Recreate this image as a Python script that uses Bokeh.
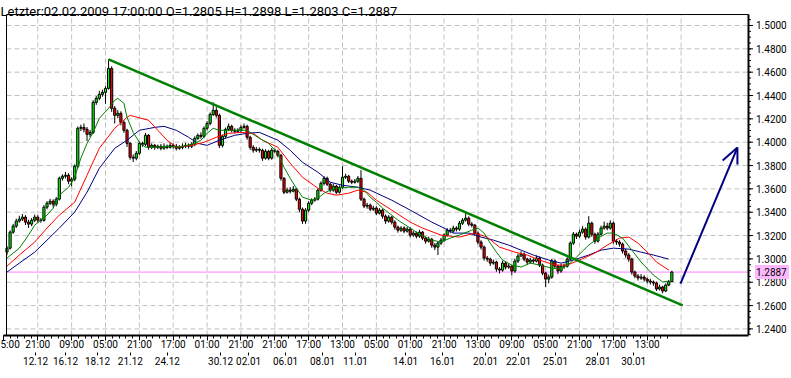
from bokeh.plotting import figure
from bokeh.models import Range1d, LinearAxis, FixedTicker, ColumnDataSource
from bokeh.core.properties import value
from bokeh.embed import file_html
from bokeh.resources import INLINE

FONT = "Roboto"

# ---------------- H4 candles (bar index 0..216) ----------------
OPEN = [
    1.3058, 1.3092, 1.3229, 1.3281, 1.3324, 1.3341, 1.3358, 1.3315, 1.3298, 1.3332,
    1.3358, 1.3332, 1.3330, 1.3443, 1.3477, 1.3494, 1.3469, 1.3512, 1.3691, 1.3708,
    1.3717, 1.3666, 1.3683, 1.3794, 1.4119, 1.4127, 1.4110, 1.4067, 1.4084, 1.4341,
    1.4376, 1.4410, 1.4427, 1.4461, 1.4632, 1.4290, 1.4230, 1.4247, 1.4170, 1.4102,
    1.3990, 1.3871, 1.3863, 1.3905, 1.3990, 1.3982, 1.4059, 1.3956, 1.3973, 1.3956,
    1.3965, 1.3948, 1.3965, 1.3956, 1.3973, 1.3965, 1.3948, 1.3956, 1.3965, 1.3973,
    1.3965, 1.3982, 1.4033, 1.4059, 1.4050, 1.4119, 1.4161, 1.4238, 1.4273, 1.4230,
    1.3973, 1.4050, 1.4110, 1.4136, 1.4102, 1.4093, 1.4102, 1.4127, 1.4136, 1.4042,
    1.3956, 1.3931, 1.3939, 1.3931, 1.3863, 1.3922, 1.3863, 1.3931, 1.3922, 1.3888,
    1.3691, 1.3571, 1.3589, 1.3580, 1.3597, 1.3512, 1.3426, 1.3324, 1.3418, 1.3477,
    1.3503, 1.3512, 1.3589, 1.3648, 1.3691, 1.3640, 1.3589, 1.3623, 1.3571, 1.3614,
    1.3700, 1.3708, 1.3666, 1.3657, 1.3666, 1.3691, 1.3512, 1.3452, 1.3460, 1.3426,
    1.3435, 1.3392, 1.3418, 1.3366, 1.3324, 1.3358, 1.3315, 1.3272, 1.3246, 1.3264,
    1.3238, 1.3255, 1.3204, 1.3221, 1.3195, 1.3229, 1.3178, 1.3152, 1.3169, 1.3118,
    1.3101, 1.3135, 1.3161, 1.3204, 1.3246, 1.3238, 1.3264, 1.3255, 1.3306, 1.3332,
    1.3349, 1.3298, 1.3289, 1.3221, 1.3144, 1.3101, 1.3007, 1.2998, 1.2964, 1.2973,
    1.2913, 1.2904, 1.2964, 1.2930, 1.2938, 1.2896, 1.2981, 1.3024, 1.3041, 1.2998,
    1.2973, 1.2990, 1.2981, 1.3007, 1.2947, 1.2878, 1.2827, 1.2844, 1.2981, 1.2938,
    1.2896, 1.2938, 1.2938, 1.2998, 1.3135, 1.3212, 1.3195, 1.3229, 1.3255, 1.3187,
    1.3306, 1.3212, 1.3152, 1.3212, 1.3264, 1.3281, 1.3264, 1.3306, 1.3152, 1.3144,
    1.3127, 1.3067, 1.3033, 1.2998, 1.2887, 1.2853, 1.2836, 1.2844, 1.2827, 1.2810,
    1.2802, 1.2793, 1.2742, 1.2759, 1.2725, 1.2776, 1.2805,
]
HIGH = [
    1.3110, 1.3245, 1.3300, 1.3345, 1.3370, 1.3385, 1.3375, 1.3335, 1.3350, 1.3380,
    1.3375, 1.3350, 1.3460, 1.3495, 1.3515, 1.3510, 1.3530, 1.3705, 1.3725, 1.3745,
    1.3735, 1.3700, 1.3810, 1.4135, 1.4150, 1.4160, 1.4130, 1.4105, 1.4360, 1.4395,
    1.4440, 1.4450, 1.4480, 1.4710, 1.4650, 1.4310, 1.4275, 1.4265, 1.4185, 1.4115,
    1.4000, 1.3895, 1.3925, 1.4005, 1.4005, 1.4080, 1.4070, 1.3990, 1.3985, 1.3980,
    1.3985, 1.3990, 1.3980, 1.3995, 1.3990, 1.3985, 1.3975, 1.3990, 1.3995, 1.3990,
    1.4000, 1.4050, 1.4075, 1.4085, 1.4135, 1.4180, 1.4255, 1.4341, 1.4300, 1.4245,
    1.4065, 1.4125, 1.4160, 1.4150, 1.4120, 1.4120, 1.4145, 1.4160, 1.4150, 1.4055,
    1.3975, 1.3960, 1.3955, 1.3945, 1.3940, 1.3935, 1.3950, 1.3945, 1.3935, 1.3900,
    1.3700, 1.3610, 1.3615, 1.3625, 1.3610, 1.3525, 1.3440, 1.3435, 1.3495, 1.3520,
    1.3530, 1.3605, 1.3665, 1.3710, 1.3705, 1.3655, 1.3645, 1.3635, 1.3630, 1.3794,
    1.3730, 1.3720, 1.3680, 1.3685, 1.3710, 1.3760, 1.3525, 1.3480, 1.3475, 1.3455,
    1.3450, 1.3435, 1.3430, 1.3380, 1.3375, 1.3370, 1.3330, 1.3285, 1.3280, 1.3280,
    1.3275, 1.3270, 1.3240, 1.3235, 1.3250, 1.3240, 1.3190, 1.3190, 1.3180, 1.3135,
    1.3150, 1.3180, 1.3220, 1.3265, 1.3265, 1.3285, 1.3280, 1.3325, 1.3350, 1.3392,
    1.3365, 1.3315, 1.3300, 1.3235, 1.3160, 1.3115, 1.3025, 1.3010, 1.2995, 1.2985,
    1.2930, 1.2985, 1.2980, 1.2960, 1.2950, 1.3000, 1.3045, 1.3065, 1.3055, 1.3010,
    1.3010, 1.3005, 1.3030, 1.3020, 1.2960, 1.2890, 1.2865, 1.3000, 1.2995, 1.2950,
    1.2960, 1.2960, 1.3015, 1.3150, 1.3230, 1.3225, 1.3250, 1.3280, 1.3270, 1.3366,
    1.3320, 1.3225, 1.3230, 1.3285, 1.3320, 1.3310, 1.3330, 1.3320, 1.3170, 1.3160,
    1.3140, 1.3085, 1.3050, 1.3010, 1.2900, 1.2870, 1.2870, 1.2860, 1.2840, 1.2830,
    1.2815, 1.2805, 1.2780, 1.2770, 1.2790, 1.2820, 1.2898,
]
LOW = [
    1.3033, 1.3080, 1.3215, 1.3265, 1.3310, 1.3325, 1.3290, 1.3265, 1.3280, 1.3315,
    1.3310, 1.3310, 1.3320, 1.3425, 1.3460, 1.3440, 1.3450, 1.3500, 1.3670, 1.3690,
    1.3640, 1.3620, 1.3665, 1.3780, 1.4095, 1.4085, 1.4010, 1.4045, 1.4070, 1.4320,
    1.4360, 1.4390, 1.4330, 1.4450, 1.4260, 1.4160, 1.4205, 1.4145, 1.4080, 1.3960,
    1.3850, 1.3830, 1.3845, 1.3890, 1.3960, 1.3965, 1.3935, 1.3940, 1.3935, 1.3940,
    1.3930, 1.3935, 1.3940, 1.3945, 1.3945, 1.3930, 1.3935, 1.3940, 1.3950, 1.3945,
    1.3950, 1.3965, 1.4020, 1.4030, 1.4035, 1.4100, 1.4145, 1.4225, 1.4210, 1.3950,
    1.3955, 1.4035, 1.4095, 1.4085, 1.4075, 1.4080, 1.4085, 1.4115, 1.4020, 1.3935,
    1.3910, 1.3915, 1.3910, 1.3840, 1.3850, 1.3845, 1.3850, 1.3905, 1.3870, 1.3670,
    1.3555, 1.3560, 1.3560, 1.3570, 1.3495, 1.3400, 1.3300, 1.3300, 1.3400, 1.3460,
    1.3490, 1.3500, 1.3575, 1.3630, 1.3625, 1.3570, 1.3575, 1.3555, 1.3560, 1.3600,
    1.3685, 1.3650, 1.3640, 1.3645, 1.3650, 1.3495, 1.3435, 1.3430, 1.3410, 1.3410,
    1.3375, 1.3380, 1.3345, 1.3300, 1.3310, 1.3295, 1.3250, 1.3225, 1.3230, 1.3220,
    1.3225, 1.3185, 1.3190, 1.3175, 1.3180, 1.3160, 1.3130, 1.3140, 1.3095, 1.3075,
    1.3033, 1.3120, 1.3145, 1.3190, 1.3220, 1.3225, 1.3235, 1.3240, 1.3290, 1.3320,
    1.3280, 1.3270, 1.3200, 1.3125, 1.3080, 1.2985, 1.2975, 1.2940, 1.2950, 1.2890,
    1.2875, 1.2890, 1.2910, 1.2915, 1.2860, 1.2880, 1.2965, 1.3020, 1.2980, 1.2950,
    1.2960, 1.2960, 1.2970, 1.2930, 1.2860, 1.2759, 1.2790, 1.2830, 1.2920, 1.2870,
    1.2880, 1.2915, 1.2925, 1.2985, 1.3120, 1.3170, 1.3180, 1.3215, 1.3165, 1.3175,
    1.3190, 1.3130, 1.3140, 1.3200, 1.3250, 1.3245, 1.3250, 1.3130, 1.3120, 1.3105,
    1.3045, 1.3010, 1.2975, 1.2865, 1.2835, 1.2815, 1.2820, 1.2805, 1.2790, 1.2780,
    1.2770, 1.2725, 1.2730, 1.2705, 1.2715, 1.2765, 1.2803,
]
CLOSE = [
    1.3092, 1.3229, 1.3281, 1.3324, 1.3341, 1.3358, 1.3315, 1.3298, 1.3332, 1.3358,
    1.3332, 1.3330, 1.3443, 1.3477, 1.3494, 1.3469, 1.3512, 1.3691, 1.3708, 1.3717,
    1.3666, 1.3683, 1.3794, 1.4119, 1.4127, 1.4110, 1.4067, 1.4084, 1.4341, 1.4376,
    1.4410, 1.4427, 1.4461, 1.4632, 1.4290, 1.4230, 1.4247, 1.4170, 1.4102, 1.3990,
    1.3871, 1.3863, 1.3905, 1.3990, 1.3982, 1.4059, 1.3956, 1.3973, 1.3956, 1.3965,
    1.3948, 1.3965, 1.3956, 1.3973, 1.3965, 1.3948, 1.3956, 1.3965, 1.3973, 1.3965,
    1.3982, 1.4033, 1.4059, 1.4050, 1.4119, 1.4161, 1.4238, 1.4273, 1.4230, 1.3973,
    1.4050, 1.4110, 1.4136, 1.4102, 1.4093, 1.4102, 1.4127, 1.4136, 1.4042, 1.3956,
    1.3931, 1.3939, 1.3931, 1.3863, 1.3922, 1.3863, 1.3931, 1.3922, 1.3888, 1.3691,
    1.3571, 1.3589, 1.3580, 1.3597, 1.3512, 1.3426, 1.3324, 1.3418, 1.3477, 1.3503,
    1.3512, 1.3589, 1.3648, 1.3691, 1.3640, 1.3589, 1.3623, 1.3571, 1.3614, 1.3700,
    1.3708, 1.3666, 1.3657, 1.3666, 1.3691, 1.3512, 1.3452, 1.3460, 1.3426, 1.3435,
    1.3392, 1.3418, 1.3366, 1.3324, 1.3358, 1.3315, 1.3272, 1.3246, 1.3264, 1.3238,
    1.3255, 1.3204, 1.3221, 1.3195, 1.3229, 1.3178, 1.3152, 1.3169, 1.3118, 1.3101,
    1.3135, 1.3161, 1.3204, 1.3246, 1.3238, 1.3264, 1.3255, 1.3306, 1.3332, 1.3349,
    1.3298, 1.3289, 1.3221, 1.3144, 1.3101, 1.3007, 1.2998, 1.2964, 1.2973, 1.2913,
    1.2904, 1.2964, 1.2930, 1.2938, 1.2896, 1.2981, 1.3024, 1.3041, 1.2998, 1.2973,
    1.2990, 1.2981, 1.3007, 1.2947, 1.2878, 1.2827, 1.2844, 1.2981, 1.2938, 1.2896,
    1.2938, 1.2938, 1.2998, 1.3135, 1.3212, 1.3195, 1.3229, 1.3255, 1.3187, 1.3306,
    1.3212, 1.3152, 1.3212, 1.3264, 1.3281, 1.3264, 1.3306, 1.3152, 1.3144, 1.3127,
    1.3067, 1.3033, 1.2998, 1.2887, 1.2853, 1.2836, 1.2844, 1.2827, 1.2810, 1.2802,
    1.2793, 1.2742, 1.2759, 1.2725, 1.2776, 1.2805, 1.2887,
]

# ---------------- moving averages (read at sample bars) ----------------
FAST_BARS = [0, 4, 7, 9, 11, 13, 15, 17, 20, 22, 24, 26, 28, 30, 33, 35, 36, 38, 39, 41,
             43, 45, 48, 52, 56, 61, 63, 65, 67, 69, 72, 78, 82, 85, 88, 90, 92, 94, 96, 99,
             101, 103, 105, 107, 111, 114, 116, 118, 120, 122, 125, 127, 131, 134, 138, 141,
             144, 147, 151, 153, 155, 157, 159, 161, 164, 167, 170, 173, 177, 180, 183, 185,
             189, 192, 195, 197, 200, 203, 206, 210, 213, 215]
FAST_VALS = [1.3007, 1.3092, 1.3204, 1.3289, 1.3332, 1.3375, 1.3435, 1.3546, 1.3614, 1.3700,
             1.3863, 1.3990, 1.4084, 1.4205, 1.4290, 1.4359, 1.4376, 1.4333, 1.4213, 1.4084,
             1.4000, 1.3957, 1.3957, 1.3965, 1.3957, 1.3990, 1.4017, 1.4076, 1.4119, 1.4102,
             1.4102, 1.4102, 1.4033, 1.3990, 1.3905, 1.3785, 1.3691, 1.3606, 1.3529, 1.3503,
             1.3520, 1.3563, 1.3589, 1.3606, 1.3614, 1.3614, 1.3589, 1.3529, 1.3486, 1.3435,
             1.3375, 1.3332, 1.3264, 1.3212, 1.3161, 1.3144, 1.3178, 1.3204, 1.3246, 1.3264,
             1.3221, 1.3135, 1.3058, 1.2990, 1.2947, 1.2930, 1.2964, 1.2947, 1.2921, 1.2913,
             1.2964, 1.3015, 1.3118, 1.3178, 1.3221, 1.3221, 1.3178, 1.3075, 1.2973, 1.2862,
             1.2802, 1.2810]
MID_BARS = [0, 4, 9, 13, 17, 22, 26, 30, 35, 39, 40, 46, 49, 52, 55, 60, 64, 68, 72, 76,
            80, 83, 88, 92, 96, 101, 104, 107, 111, 114, 117, 120, 126, 131, 135, 141, 147,
            152, 156, 160, 165, 169, 173, 178, 182, 186, 191, 195, 199, 202, 205, 208, 211, 215]
MID_VALS = [1.2938, 1.3033, 1.3144, 1.3264, 1.3375, 1.3486, 1.3717, 1.3948, 1.4119, 1.4213,
            1.4230, 1.4188, 1.4102, 1.4017, 1.3957, 1.3973, 1.3999, 1.4042, 1.4076, 1.4084,
            1.4076, 1.4017, 1.3957, 1.3820, 1.3700, 1.3606, 1.3563, 1.3546, 1.3563, 1.3589,
            1.3571, 1.3503, 1.3401, 1.3315, 1.3264, 1.3204, 1.3187, 1.3221, 1.3187, 1.3101,
            1.3058, 1.3033, 1.2990, 1.2947, 1.2947, 1.2990, 1.3050, 1.3118, 1.3178, 1.3187,
            1.3135, 1.3058, 1.2973, 1.2904]
SLOW_BARS = [0, 4, 9, 13, 17, 22, 26, 30, 35, 39, 43, 48, 51, 55, 59, 62, 65, 69, 74, 78,
             82, 88, 92, 96, 101, 105, 109, 114, 118, 125, 131, 138, 142, 145, 150, 154, 158,
             163, 167, 171, 176, 180, 184, 189, 193, 197, 202, 206, 210, 215]
SLOW_VALS = [1.2887, 1.2964, 1.3058, 1.3161, 1.3264, 1.3401, 1.3571, 1.3777, 1.3948, 1.4017,
             1.4102, 1.4127, 1.4136, 1.4102, 1.4042, 1.3990, 1.3973, 1.4017, 1.4059, 1.4076,
             1.4084, 1.4017, 1.3931, 1.3828, 1.3743, 1.3657, 1.3631, 1.3614, 1.3589, 1.3503,
             1.3418, 1.3315, 1.3264, 1.3221, 1.3221, 1.3187, 1.3161, 1.3118, 1.3075, 1.3033,
             1.2990, 1.2964, 1.2990, 1.3033, 1.3075, 1.3092, 1.3084, 1.3058, 1.3033, 1.2998]

# ---------------- drawn objects (data space) ----------------
TREND_X = [33.0, 219.5]
TREND_Y = [1.4710, 1.2601]
ARROW_X = [218.8, 237.3]
ARROW_Y = [1.2789, 1.3954]
BARB_X = [232.5, 237.3]
BARB_Y = [1.3843, 1.3809]

# ---------------- axis labels ----------------
PRICE_TICKS = [1.24, 1.26, 1.28, 1.30, 1.32, 1.34, 1.36, 1.38, 1.40, 1.42, 1.44, 1.46, 1.48, 1.50]
TIME_BARS = [-1, 10, 21, 32, 43, 54, 65, 76, 87, 98, 109, 120, 131, 142, 153, 164, 175, 186, 197, 208]
TIME_LABELS = ["5:00", "21:00", "09:00", "05:00", "21:00", "17:00", "01:00", "21:00", "21:00",
               "17:00", "13:00", "05:00", "01:00", "21:00", "13:00", "09:00", "05:00", "21:00",
               "17:00", "13:00"]
GRID_BARS = [10, 21, 32, 43, 54, 65, 76, 87, 98, 109, 120, 131, 142, 153, 164, 175, 186, 197, 208, 219]
DATE_BARS = [9.3, 19.0, 29.4, 40.1, 52.1, 69.4, 78.5, 90.5, 102.5, 113.2, 129.5, 141.5,
             155.5, 166.2, 178.2, 192.0, 203.6]
DATE_LABELS = ["12.12", "16.12", "18.12", "21.12", "24.12", "30.12", "02.01", "06.01", "08.01",
               "11.01", "14.01", "16.01", "20.01", "22.01", "25.01", "28.01", "30.01"]

# ---------------- layout constants (plot box in data space) ----------------
X_START, X_END = -2.112, 254.87        # whole canvas width
Y_BOTTOM, Y_TOP = 1.23436, 1.52142     # canvas top down to the time axis
BOX_L, BOX_R = -0.16, 240.9            # left / right edge of the price box
BOX_T = 1.5094                         # top edge of the price box
PX_X = (X_END - X_START) / 791.0       # one pixel in bar units
PX_Y = (Y_TOP - Y_BOTTOM) / 335.0      # one pixel in price units

n = len(CLOSE)
bars = list(range(n))
src = ColumnDataSource(dict(
    x=bars, o=OPEN, h=HIGH, l=LOW, c=CLOSE,
    top=[max(a, b) for a, b in zip(OPEN, CLOSE)],
    bottom=[min(a, b) for a, b in zip(OPEN, CLOSE)],
    color=["#00ff00" if c > o else ("#ff0000" if c < o else "#000000") for o, c in zip(OPEN, CLOSE)],
))

p = figure(width=791, height=378, output_backend="svg", toolbar_location=None,
           x_range=Range1d(X_START, X_END), y_range=Range1d(Y_BOTTOM, Y_TOP),
           x_axis_location=None, y_axis_location=None,
           min_border_left=0, min_border_right=0, min_border_top=0, min_border_bottom=43,
           background_fill_color="white", border_fill_color="white",
           outline_line_color=None)
p.xgrid.visible = False
p.ygrid.visible = False

# dashed grid inside the price box
p.segment(x0=[BOX_L] * len(PRICE_TICKS), x1=[BOX_R] * len(PRICE_TICKS),
          y0=PRICE_TICKS, y1=PRICE_TICKS, line_color="#c0c0c0", line_width=1, line_dash="5 3")
p.segment(x0=GRID_BARS, x1=GRID_BARS, y0=[Y_BOTTOM] * len(GRID_BARS), y1=[BOX_T] * len(GRID_BARS),
          line_color="#c0c0c0", line_width=1, line_dash="5 3")

# last price line
p.segment(x0=[BOX_L], x1=[BOX_R], y0=[CLOSE[-1]], y1=[CLOSE[-1]], line_color="#ff80ff", line_width=1)

# candles
p.segment(x0="x", y0="h", x1="x", y1="l", source=src, line_color="black", line_width=1)
p.vbar(x="x", width=0.7, top="top", bottom="bottom", source=src,
       fill_color="color", line_color="black", line_width=1)

# moving averages
p.line(SLOW_BARS, SLOW_VALS, line_color="#000080", line_width=1)
p.line(MID_BARS, MID_VALS, line_color="#ff0000", line_width=1)
p.line(FAST_BARS, FAST_VALS, line_color="#008000", line_width=1)

# trend line and arrow
p.line(TREND_X, TREND_Y, line_color="#008000", line_width=2.5)
p.line(ARROW_X, ARROW_Y, line_color="#000080", line_width=2)
p.segment(x0=[ARROW_X[1]] * 2, y0=[ARROW_Y[1]] * 2, x1=BARB_X, y1=BARB_Y,
          line_color="#000080", line_width=2)

# box border: left, top, right (bottom is the time axis line)
p.segment(x0=[BOX_L, BOX_L], x1=[BOX_L, BOX_R], y0=[Y_BOTTOM, BOX_T], y1=[BOX_T, BOX_T],
          line_color="black", line_width=1)
p.segment(x0=[BOX_R], x1=[BOX_R], y0=[Y_BOTTOM], y1=[BOX_T], line_color="black", line_width=2)

# price scale on the right
minor_p = [round(1.235 + 0.005 * k, 3) for k in range(56)]
minor_p = [m for m in minor_p if Y_BOTTOM <= m <= BOX_T]
p.segment(x0=[BOX_R] * len(minor_p), x1=[BOX_R + 2.5 * PX_X] * len(minor_p),
          y0=minor_p, y1=minor_p, line_color="black", line_width=1)
p.segment(x0=[BOX_R] * len(PRICE_TICKS), x1=[BOX_R + 4.5 * PX_X] * len(PRICE_TICKS),
          y0=PRICE_TICKS, y1=PRICE_TICKS, line_color="black", line_width=1)
label_x = BOX_R + 7.5 * PX_X
p.text(x=[label_x] * len(PRICE_TICKS), y=PRICE_TICKS, text=[f"{t:.4f}" for t in PRICE_TICKS],
       text_align="left", text_baseline="middle", text_color="black",
       text_font=value(FONT), text_font_size=value("10px"))

# last price marker on the price scale
p.quad(left=[BOX_R + 6.5 * PX_X], right=[BOX_R + 40.5 * PX_X],
       bottom=[CLOSE[-1] - 7 * PX_Y], top=[CLOSE[-1] + 7 * PX_Y],
       fill_color="#ffb8ff", line_color=None)
p.text(x=[label_x], y=[CLOSE[-1]], text=[f"{CLOSE[-1]:.4f}"],
       text_align="left", text_baseline="middle", text_color="black",
       text_font=value(FONT), text_font_size=value("10px"))

# header text
header = (f"Letzter:02.02.2009 17:00:00 O={OPEN[-1]:.4f} H={HIGH[-1]:.4f} "
          f"L={LOW[-1]:.4f} C={CLOSE[-1]:.4f}")
p.text(x=[X_START], y=[Y_TOP - 10.5 * PX_Y], text=[header],
       text_align="left", text_baseline="alphabetic", text_color="black",
       text_font=value(FONT), text_font_size=value("13px"))

# bottom time axis
minor_t = [round(-1 + 2.2 * k, 2) for k in range(100) if -1 + 2.2 * k <= 216.5]
tax = LinearAxis(bounds=(TIME_BARS[0], BOX_R),
                 ticker=FixedTicker(ticks=TIME_BARS, minor_ticks=minor_t),
                 major_label_overrides={b: t for b, t in zip(TIME_BARS, TIME_LABELS)},
                 axis_line_width=2, axis_line_color="black",
                 major_tick_out=5, major_tick_in=0, minor_tick_out=3, minor_tick_in=0,
                 major_label_standoff=-2, major_label_text_font=FONT,
                 major_label_text_font_size="10px", major_label_text_color="black")
p.add_layout(tax, "below")

dax = LinearAxis(ticker=FixedTicker(ticks=DATE_BARS, minor_ticks=[]),
                 major_label_overrides={b: t for b, t in zip(DATE_BARS, DATE_LABELS)},
                 axis_line_color=None, major_tick_out=3, major_tick_in=0,
                 minor_tick_out=0, minor_tick_in=0,
                 major_label_standoff=1, major_label_text_font=FONT,
                 major_label_text_font_size="10px", major_label_text_color="black")
p.add_layout(dax, "below")

open("out.html", "w").write(file_html(p, INLINE))
